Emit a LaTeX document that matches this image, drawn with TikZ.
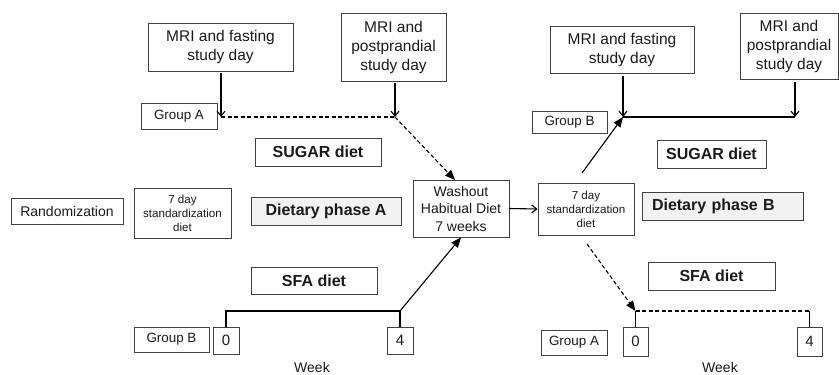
\documentclass[tikz,border=0pt]{standalone}
\usepackage{fontspec}
\setmainfont{Liberation Sans}
\usetikzlibrary{arrows.meta,calc}
\definecolor{boxline}{HTML}{404040}
\definecolor{phasefill}{HTML}{F2F2F2}
\definecolor{txt}{HTML}{1A1A1A}
\tikzset{
  box/.style={draw=boxline, line width=0.9pt, inner sep=0pt, align=center, text=txt},
  phase/.style={box, fill=phasefill},
  conn/.style={line width=1.1pt, draw=black},
  dconn/.style={conn, dash pattern=on 4pt off 2.5pt},
  openarr/.style={-{Straight Barb[length=5pt,width=8pt,line width=1.1pt]}},
  fillarr/.style={-{Triangle[length=10pt,width=8pt]}},
}
\begin{document}
\begin{tikzpicture}[x=1pt,y=-1pt]
\useasboundingbox (0,0) rectangle (839,375);
\fill[white] (0,0) rectangle (839,375);

% ---- left half ----
\node[box, minimum width=145, minimum height=48, font=\fontsize{15.5}{19}\selectfont] (fastA) at (220.5,47) {MRI and fasting\\study day};
\node[box, minimum width=105, minimum height=68, font=\fontsize{15.5}{19}\selectfont] (postA) at (393.5,47) {MRI and\\postprandial\\study day};
\node[box, minimum width=76, minimum height=26, font=\fontsize{13.4}{16}\selectfont] (grpA1) at (179,116) {Group A};
\node[box, minimum width=126, minimum height=28, font=\fontsize{16}{19}\selectfont\bfseries] (sugarA) at (318,152) {SUGAR diet};
\node[box, minimum width=112, minimum height=26, font=\fontsize{14}{17}\selectfont] (rand) at (67,211) {Randomization};
\node[box, minimum width=97, minimum height=50, font=\fontsize{11.6}{14}\selectfont] (std1) at (182.5,213) {7 day\\standardization\\diet};
\node[phase, minimum width=150, minimum height=28, font=\fontsize{16}{19}\selectfont\bfseries] (phaseA) at (326,211) {Dietary phase A};
\node[box, minimum width=96, minimum height=57, font=\fontsize{14}{17.5}\selectfont] (wash) at (461,208.5) {Washout\\Habitual Diet\\7 weeks};
\node[box, minimum width=126, minimum height=27, font=\fontsize{16}{19}\selectfont\bfseries] (sfaA) at (314,280.5) {SFA diet};
\node[box, minimum width=75, minimum height=25, font=\fontsize{13.4}{16}\selectfont] (grpB1) at (171.5,339.5) {Group B};
\node[box, minimum width=26, minimum height=27, font=\fontsize{15}{18}\selectfont] (zeroA) at (226,340.5) {0};
\node[box, minimum width=26, minimum height=27, font=\fontsize{15}{18}\selectfont] (fourA) at (400,340.5) {4};
\node[anchor=base, inner sep=0pt, text=txt, font=\fontsize{14}{17}\selectfont] (weekA) at (312,372) {Week};

% ---- right half ----
\node[box, minimum width=144, minimum height=47, font=\fontsize{15.5}{19}\selectfont] (fastB) at (622,49.5) {MRI and fasting\\study day};
\node[box, minimum width=98, minimum height=66, font=\fontsize{15.5}{19}\selectfont] (postB) at (789,46) {MRI and\\postprandial\\study day};
\node[box, minimum width=75, minimum height=22, font=\fontsize{13.4}{16}\selectfont] (grpB2) at (569.5,122) {Group B};
\node[box, minimum width=109, minimum height=28, font=\fontsize{16}{19}\selectfont\bfseries] (sugarB) at (711.5,154) {SUGAR diet};
\node[box, minimum width=96, minimum height=52, font=\fontsize{11.6}{14}\selectfont] (std2) at (586,209) {7 day\\standardization\\diet};
\node[phase, minimum width=161, minimum height=28, text width=141, inner xsep=10pt, align=left, font=\fontsize{16}{19}\selectfont\bfseries] (phaseB) at (722.5,206) {Dietary phase B};
\node[box, minimum width=127, minimum height=28, font=\fontsize{16}{19}\selectfont\bfseries] (sfaB) at (711.5,276) {SFA diet};
\node[box, minimum width=66, minimum height=25, font=\fontsize{13.4}{16}\selectfont] (grpA2) at (574,342.5) {Group A};
\node[box, minimum width=25, minimum height=29, font=\fontsize{15}{18}\selectfont] (zeroB) at (635.5,341.5) {0};
\node[box, minimum width=25, minimum height=29, font=\fontsize{15}{18}\selectfont] (fourB) at (809.5,341.5) {4};
\node[anchor=base, inner sep=0pt, text=txt, font=\fontsize{14}{17}\selectfont] (weekB) at (720,372) {Week};

% ---- coordinates ----
\coordinate (a1) at (221,117);
\coordinate (a2) at (395,117);
\coordinate (washIn) at (455,180);
\coordinate (b1) at (226,311);
\coordinate (b2) at (400,311);
\coordinate (c1) at (623,117);
\coordinate (c2) at (795,117);
\coordinate (s2top) at (582,173);
\coordinate (s2bot) at (587,244);
\coordinate (d1) at (635.5,311);
\coordinate (d2) at (809.5,311);

% ---- connectors left ----
\draw[conn, openarr] (fastA.south -| a1) ++(0,2) -- (a1);
\draw[conn, openarr] (postA.south -| a2) ++(0,2) -- (a2);
\draw[dconn] (a1) -- (a2);
\draw[dconn, fillarr] (a2) -- (washIn);
\draw[conn] (zeroA.north) -- (b1) -- (b2) -- (fourA.north);
\draw[conn, fillarr] (b2) -- (wash.south);

% ---- connectors right ----
\draw[conn, openarr] (wash.east) -- (std2.west);
\draw[conn, openarr] (fastB.south -| c1) ++(0,3) -- (c1);
\draw[conn, openarr] (postB.south -| c2) ++(0,3) -- (c2);
\draw[conn] (c1) -- (c2);
\draw[conn, fillarr] (s2top) -- (c1);
\draw[dconn, fillarr] (s2bot) -- (d1);
\draw[dconn] (d1) -- (d2);
\draw[conn] (d1) -- (zeroB.north);
\draw[conn] (d2) -- (fourB.north);
\end{tikzpicture}
\end{document}
